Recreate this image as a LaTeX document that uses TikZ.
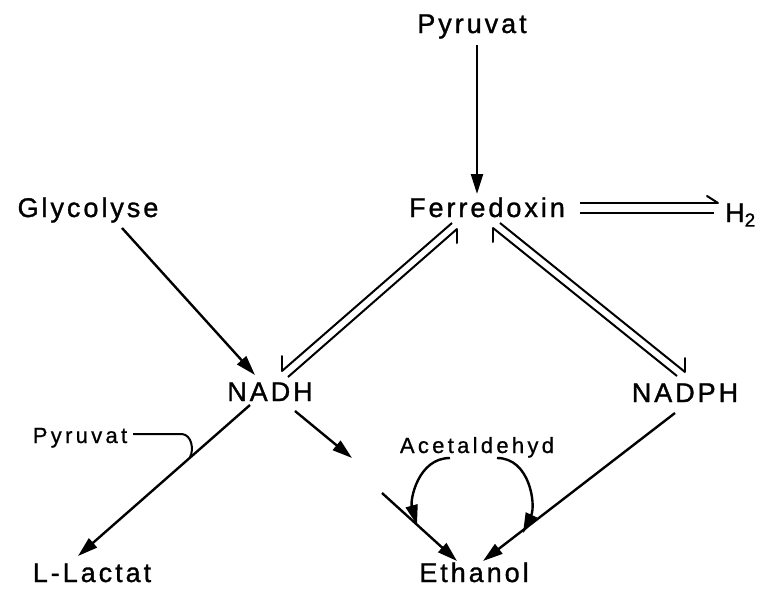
\documentclass[tikz,border=0pt]{standalone}
\usepackage{fontspec}
\setmainfont{Liberation Sans}
\newfontfamily\bigfam[LetterSpace=11,FakeBold=1.2]{Liberation Sans}
\newfontfamily\smallfam[LetterSpace=15,FakeBold=0.8]{Liberation Sans}
\usetikzlibrary{arrows.meta}
\begin{document}
\begin{tikzpicture}[x=1pt,y=-1pt,
  big/.style={inner sep=0pt, anchor=base, font=\bigfam\fontsize{27}{30}\selectfont},
  small/.style={inner sep=0pt, anchor=base, font=\smallfam\fontsize{22}{26}\selectfont},
  arr/.style={line width=2.4pt, -{Triangle[length=20pt,width=12pt]}},
  dbl/.style={line width=2pt},
  barb/.style={line width=2pt, line cap=round}]
\useasboundingbox (0,0) rectangle (766,589);
% texts
\node[big] (pyrtop) at (472,33) {Pyruvat};
\node[big] (ferr) at (487,217) {Ferredoxin};
\node[big, anchor=base west] (h2) at (725,222) {H\textsubscript{2}};
\node[big] (glyc) at (88,217) {Glycolyse};
\node[big] (nadh) at (270,401) {NADH};
\node[big] (nadph) at (685,402) {NADPH};
\node[small] (pyrsm) at (80,443) {Pyruvat};
\node[small] (acet) at (477,453) {Acetaldehyd};
\node[big] (lact) at (92,582) {L-Lactat};
\node[big] (eth) at (474,582) {Ethanol};
% coordinates
\coordinate (p1) at (477,45);  \coordinate (p2) at (477,194);
\coordinate (g1) at (122,228); \coordinate (g2) at (255,375);
\coordinate (l1) at (250,405); \coordinate (l2) at (78,556);
\coordinate (s1) at (133,434); \coordinate (s2) at (182,434); \coordinate (s3) at (190,457);
\coordinate (n1) at (295,411); \coordinate (n2) at (352,458);
\coordinate (e1) at (382,493); \coordinate (e2) at (457,561);
\coordinate (d1) at (675,413); \coordinate (d2) at (483,561);
\coordinate (a1) at (450,458); \coordinate (a2) at (417,525);
\coordinate (b1) at (497,458); \coordinate (b2) at (523,533);
% NADH pair
\coordinate (A1) at (452,223); \coordinate (A2) at (282,371);
\coordinate (B1) at (457,229); \coordinate (B2) at (288,377);
% NADPH pair
\coordinate (C1) at (500,223); \coordinate (C2) at (685,372);
\coordinate (D1) at (493,228); \coordinate (D2) at (677,376);
% H2 pair
\coordinate (H1) at (580,203); \coordinate (H2) at (718,203);
\coordinate (K1) at (580,213); \coordinate (K2) at (714,213);
% arrows
\draw[arr] (p1) -- (p2);
\draw[arr] (g1) -- (g2);
\draw[arr] (l1) -- (l2);
\draw[line width=2pt] (s1) -- (s2) .. controls (192,435) and (194,450) .. (s3);
\draw[arr] (n1) -- (n2);
\draw[arr] (e1) -- (e2);
\draw[arr] (d1) -- (d2);
\draw[arr] (a1) .. controls (418,458) and (410,500) .. (a2);
\draw[arr] (b1) .. controls (530,458) and (536,505) .. (b2);
% equilibrium harpoons
\draw[dbl] (A1) -- (A2);
\draw[barb] (A2) -- ++(0,-15);
\draw[dbl] (B1) -- (B2);
\draw[barb] (B1) -- ++(0,14);
\draw[dbl] (C1) -- (C2);
\draw[barb] (C2) -- ++(0,-14);
\draw[dbl] (D1) -- (D2);
\draw[barb] (D1) -- ++(0,14);
\draw[dbl] (H1) -- (H2);
\draw[barb] (H2) -- ++(-11,-7);
\draw[dbl] (K1) -- (K2);
\end{tikzpicture}
\end{document}
